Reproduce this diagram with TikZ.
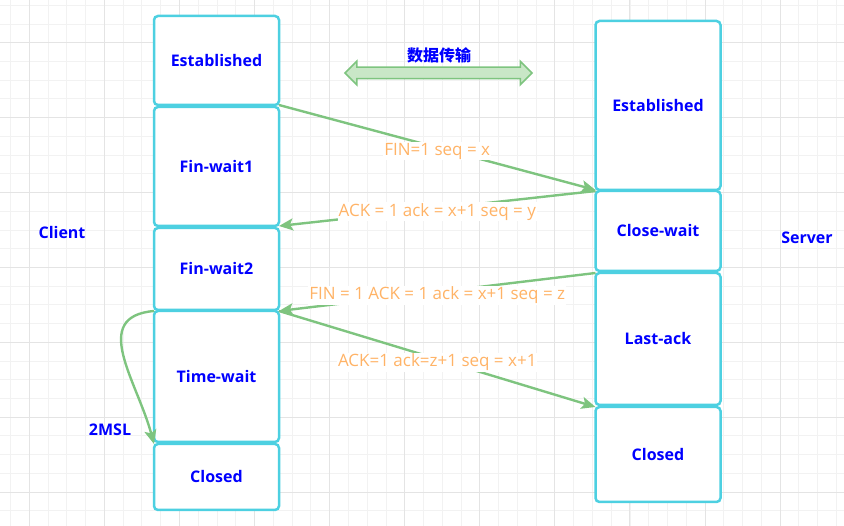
\documentclass[tikz,border=0pt]{standalone}
\usepackage{fontspec}
\setmainfont{Open Sans}
\newfontfamily\cjk{Noto Sans CJK SC}
\definecolor{cyanline}{HTML}{4DD0E1}
\definecolor{textblue}{HTML}{0000FF}
\definecolor{msgorange}{HTML}{FFB366}
\definecolor{arrowgreen}{HTML}{7EC47F}
\definecolor{palegreen}{HTML}{C9E7C7}
\definecolor{gridminor}{HTML}{F2F2F2}
\definecolor{gridmajor}{HTML}{E4E4E4}
\usetikzlibrary{shapes.arrows,arrows.meta,positioning}

\begin{document}
\begin{tikzpicture}[x=1pt, y=-1pt,
  state/.style={rectangle, draw=cyanline, line width=2.5pt, fill=white, rounded corners=4pt, minimum width=125pt, inner sep=0pt, outer sep=0pt, font=\fontsize{16}{19}\selectfont\bfseries, text=textblue},
  side/.style={font=\fontsize{16}{19}\selectfont\bfseries, text=textblue},
  msg/.style={fill=white, inner sep=1pt, yshift=-3.5pt, font=\fontsize{17}{20}\selectfont, text=msgorange},
  flow/.style={draw=arrowgreen, line width=2.4pt, -{Stealth[length=14pt,width=12pt,inset=3pt]}},
  node distance=2pt]
\useasboundingbox (0,0) rectangle (844,526);
% grid
\foreach \i in {0,...,44} \draw[gridminor, line width=0.8pt] ({10.5+18.77*\i},0) -- ++(0,526);
\foreach \j in {0,...,28} \draw[gridminor, line width=0.8pt] (0,{5.3+18.72*\j}) -- ++(844,0);
\foreach \i in {0,...,11} \draw[gridmajor, line width=0.8pt] ({29.3+75.07*\i},0) -- ++(0,526);
\foreach \j in {0,...,6} \draw[gridmajor, line width=0.8pt] (0,{42.7+74.9*\j}) -- ++(844,0);
% client side
\node[state, minimum height=89pt] (cest) at (216.5,60.5) {Established};
\node[state, minimum height=119pt, below=of cest] (cfw1) {Fin-wait1};
\node[state, minimum height=82pt, below=of cfw1] (cfw2) {Fin-wait2};
\node[state, minimum height=131pt, below=1pt of cfw2] (ctw) {Time-wait};
\node[state, minimum height=66pt, below=of ctw] (ccl) {Closed};
% server side
\node[state, minimum height=169pt] (sest) at (658,105.5) {Established};
\node[state, minimum height=80pt, below=1pt of sest] (scw) {Close-wait};
\node[state, minimum height=132pt, below=of scw] (sla) {Last-ack};
\node[state, minimum height=95pt, below=of sla] (scl) {Closed};
\node[side] (client) at (62,233) {Client};
\node[side] (server) at (807,238) {Server};
% data transfer
\node[double arrow, draw=arrowgreen, fill=palegreen, line width=1.5pt, minimum height=187pt, inner xsep=0pt, inner ysep=5pt, double arrow head extend=6pt] (xfer) at (438.5,73) {};
\node[side] (xlbl) at (439,55) {\cjk 数据传输};
% messages
\draw[flow] (cest.south east) -- node[msg] {FIN=1 seq = x} (sest.south west);
\draw[flow] (scw.north west) -- node[msg] {ACK = 1 ack = x+1 seq = y} (cfw1.south east);
\draw[flow] (sla.north west) -- node[msg] {FIN = 1 ACK = 1 ack = x+1 seq = z} (ctw.north east);
\draw[flow] (ctw.north east) -- node[msg] {ACK=1 ack=z+1 seq = x+1} (scl.north west);
\draw[flow] (ctw.north west) to[out=185, in=105, looseness=1.25] (ccl.north west);
\node[side] (msl) at (110,430) {2MSL};
\end{tikzpicture}
\end{document}
